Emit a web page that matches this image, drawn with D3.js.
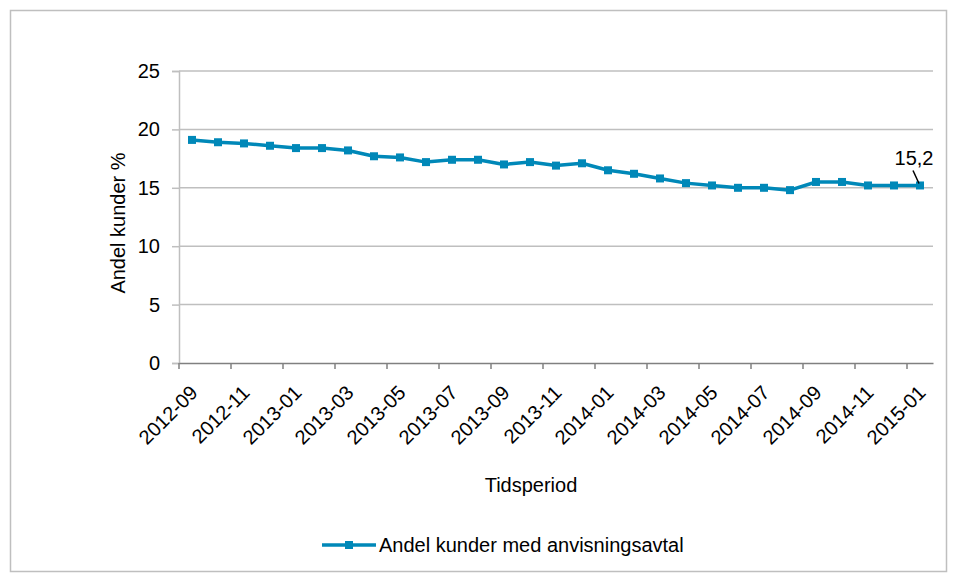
<!DOCTYPE html>
<html>
<head>
<meta charset="utf-8">
<script src="https://cdn.jsdelivr.net/npm/d3@7"></script>
<style>
  body { margin: 0; background: #fff; }
  svg text { font-family: "Liberation Sans", Arial, sans-serif; fill: #000; }
</style>
</head>
<body>
<div id="chart"></div>
<script>
// monthly periods, 2012-09 .. 2015-01
const months = [
  "2012-09", "2012-10", "2012-11", "2012-12", "2013-01", "2013-02", "2013-03", "2013-04",
  "2013-05", "2013-06", "2013-07", "2013-08", "2013-09", "2013-10", "2013-11", "2013-12",
  "2014-01", "2014-02", "2014-03", "2014-04", "2014-05", "2014-06", "2014-07", "2014-08",
  "2014-09", "2014-10", "2014-11", "2014-12", "2015-01"
];
// Andel kunder med anvisningsavtal (%)
const values = [
  19.1, 18.9, 18.8, 18.6, 18.4, 18.4, 18.2, 17.7,
  17.6, 17.2, 17.4, 17.4, 17.0, 17.2, 16.9, 17.1,
  16.5, 16.2, 15.8, 15.4, 15.2, 15.0, 15.0, 14.8,
  15.5, 15.5, 15.2, 15.2, 15.2
];
const yTicks = [0, 5, 10, 15, 20, 25];
const seriesName = "Andel kunder med anvisningsavtal";
const xTitle = "Tidsperiod";
const yTitle = "Andel kunder %";
const endLabel = "15,2";

const W = 957, H = 582;
const plot = { left: 179, right: 933, top: 71, bottom: 363 };
const color = "#0088b8";
const grid = "#bfbfbf";
const fs = "20px";

const svg = d3.select("#chart").append("svg")
  .attr("width", W).attr("height", H);

// outer chart border
svg.append("rect")
  .attr("x", 10.5).attr("y", 10.5)
  .attr("width", W - 21).attr("height", H - 21)
  .attr("fill", "none").attr("stroke", grid).attr("stroke-width", 1.5);

const x = d3.scaleBand().domain(months).range([plot.left, plot.right]).padding(0);
const y = d3.scaleLinear().domain([0, 25]).range([plot.bottom, plot.top]);
const cx = d => x(d) + x.bandwidth() / 2;

// gridlines + y axis
const yAxis = svg.append("g")
  .attr("transform", `translate(${plot.left},0)`)
  .call(d3.axisLeft(y).tickValues(yTicks).tickSize(7).tickPadding(12));
yAxis.select(".domain").attr("stroke", grid).attr("stroke-width", 1.5);
yAxis.selectAll(".tick line").attr("stroke", grid).attr("stroke-width", 1.5);
yAxis.selectAll(".tick text").style("font-size", fs);

svg.append("g").selectAll("line")
  .data(yTicks.filter(t => t > 0))
  .join("line")
  .attr("x1", plot.left).attr("x2", plot.right)
  .attr("y1", d => y(d)).attr("y2", d => y(d))
  .attr("stroke", grid).attr("stroke-width", 1.5);

// x axis: ticks on category boundaries, labels on every second month
const labelMonths = months.filter((m, i) => i % 2 === 0);
const xAxis = svg.append("g")
  .attr("transform", `translate(0,${plot.bottom})`)
  .call(d3.axisBottom(x).tickValues(labelMonths).tickSize(6).tickSizeOuter(0));
xAxis.select(".domain").attr("stroke", "#808080").attr("stroke-width", 1.5);
xAxis.selectAll(".tick line")
  .attr("stroke", "#808080").attr("stroke-width", 1.5)
  .attr("transform", `translate(${-x.bandwidth() / 2},0)`);
xAxis.selectAll(".tick text")
  .attr("y", null).attr("dy", "0.35em")
  .attr("text-anchor", "end")
  .attr("transform", "translate(2,26) rotate(-45)")
  .style("font-size", fs);

// axis titles
svg.append("text")
  .attr("x", 531).attr("y", 492)
  .attr("text-anchor", "middle").style("font-size", fs)
  .text(xTitle);
svg.append("text")
  .attr("transform", "translate(125,223) rotate(-90)")
  .attr("text-anchor", "middle").style("font-size", fs)
  .text(yTitle);

// series
const line = d3.line()
  .x((d, i) => cx(months[i]))
  .y(d => y(d));

svg.append("path")
  .datum(values)
  .attr("fill", "none")
  .attr("stroke", color)
  .attr("stroke-width", 3.5)
  .attr("stroke-linejoin", "round")
  .attr("d", line);

svg.append("g").selectAll("rect")
  .data(values)
  .join("rect")
  .attr("x", (d, i) => cx(months[i]) - 4)
  .attr("y", d => y(d) - 4)
  .attr("width", 8).attr("height", 8)
  .attr("fill", color);

// data label on last point
const last = values.length - 1;
const lx = cx(months[last]), ly = y(values[last]);
svg.append("line")
  .attr("x1", lx - 7).attr("y1", ly - 15)
  .attr("x2", lx - 1).attr("y2", ly - 2)
  .attr("stroke", "#000").attr("stroke-width", 1.5);
svg.append("text")
  .attr("x", lx - 6).attr("y", ly - 20)
  .attr("text-anchor", "middle").style("font-size", fs)
  .text(endLabel);

// legend
const lg = svg.append("g").attr("transform", "translate(322,545)");
lg.append("line")
  .attr("x1", 0).attr("x2", 54).attr("y1", 0).attr("y2", 0)
  .attr("stroke", color).attr("stroke-width", 3.5);
lg.append("rect")
  .attr("x", 23).attr("y", -4).attr("width", 8).attr("height", 8)
  .attr("fill", color);
lg.append("text")
  .attr("x", 57).attr("y", 0).attr("dy", "0.35em")
  .style("font-size", fs)
  .text(seriesName);
</script>
</body>
</html>
